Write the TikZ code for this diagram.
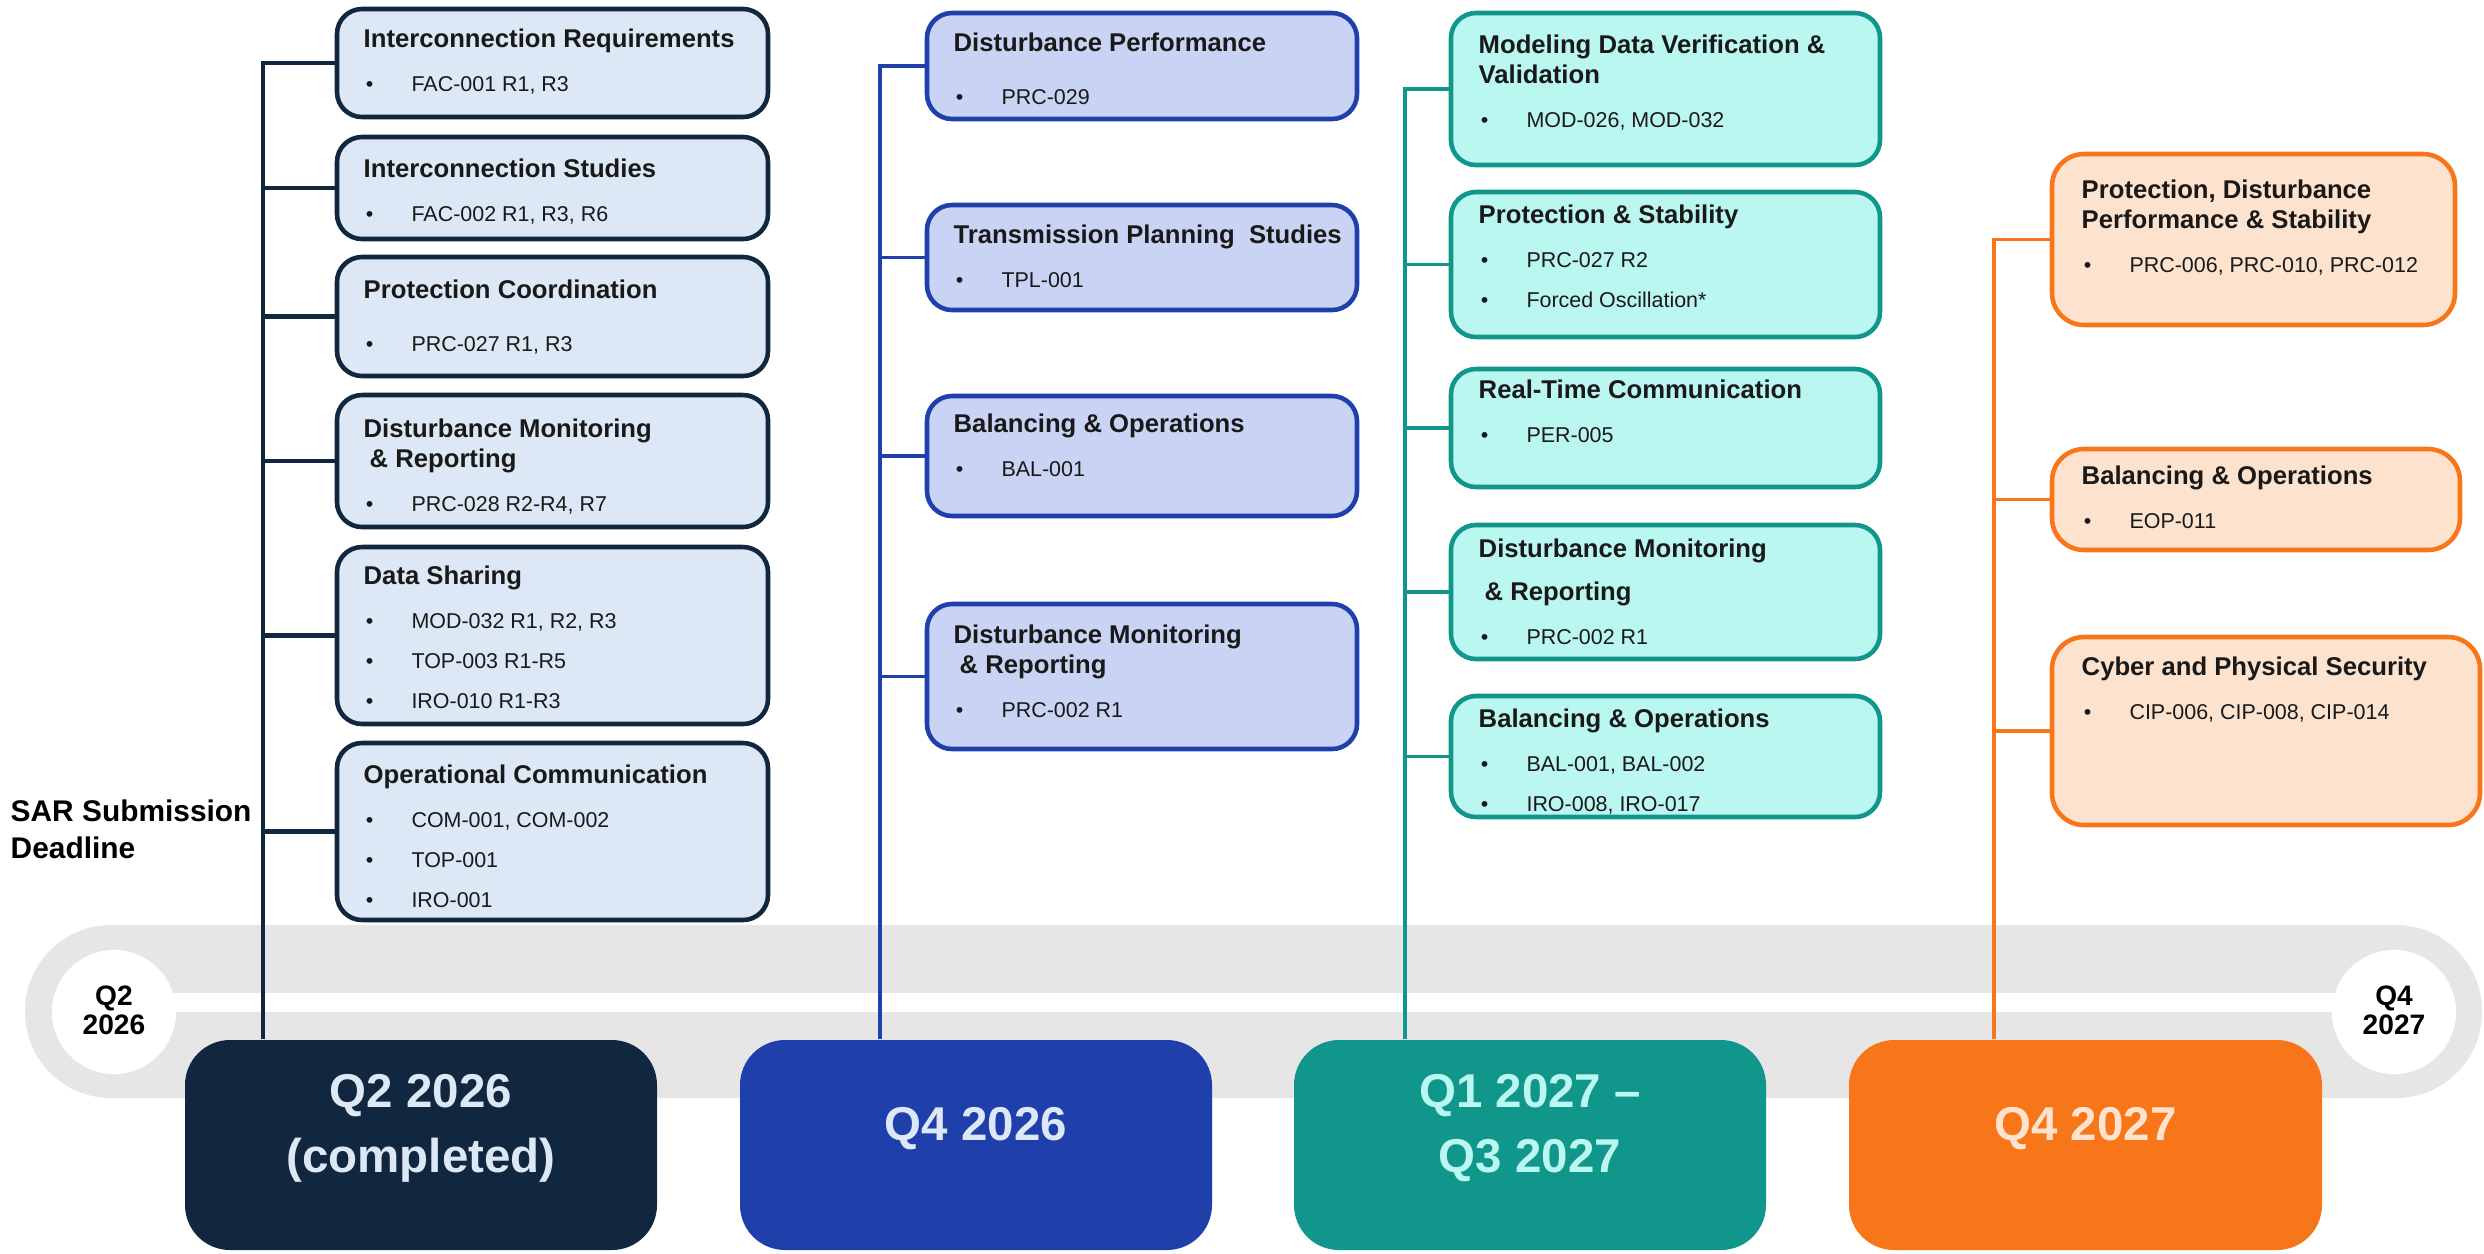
\documentclass[tikz,border=0pt]{standalone}
\usepackage{fontspec}
\setmainfont{Liberation Sans}
\usetikzlibrary{fit}
\setlength{\parindent}{0pt}

\definecolor{navy}{HTML}{10273F}
\definecolor{navyfill}{HTML}{DCE8F5}
\definecolor{royal}{HTML}{1F3FAA}
\definecolor{royalfill}{HTML}{C9D3F4}
\definecolor{tealc}{HTML}{10968A}
\definecolor{tealfill}{HTML}{BAF7F0}
\definecolor{orng}{HTML}{F7761A}
\definecolor{orngfill}{HTML}{FDE2CE}
\definecolor{track}{HTML}{E6E6E6}

% title and bullet lines inside a card
\newcommand{\ttl}[1]{{\fontsize{7.3}{8.5}\selectfont\bfseries #1\par}\vspace{1.1pt}}
\newcommand{\itm}[1]{{\fontsize{6.1}{11.4}\selectfont\makebox[13.6pt][l]{\hspace{0.6pt}\textbullet}#1\par}}

\begin{document}
\begin{tikzpicture}[x=0.01cm, y=-0.01cm,
    every node/.style={inner sep=0pt},
    card/.style={draw, line width=1.3pt, rounded corners=0.25cm},
    c1/.style={card, draw=navy, fill=navyfill},
    c2/.style={card, draw=royal, fill=royalfill},
    c3/.style={card, draw=tealc, fill=tealfill},
    c4/.style={card, draw=orng, fill=orngfill, rounded corners=0.32cm},
    txt/.style={anchor=north west, text width=4.1cm, align=flush left, text=black!90},
    link/.style={line width=1pt},
    qbox/.style={rounded corners=0.45cm, align=flush center,
      font=\fontsize{13.5}{18.5}\selectfont\bfseries},
    qlabel/.style={align=flush center, font=\fontsize{8}{6.8}\selectfont\bfseries}]
  \useasboundingbox (0,0) rectangle (2484,1253);

  % timeline track
  \fill[track, rounded corners=0.86cm] (25,925) rectangle (2482,1098);
  \fill[white] (114,993) rectangle (2394,1012);
  \fill[white] (114,1012) circle (0.62cm);
  \fill[white] (2394,1012) circle (0.62cm);
  \node[qlabel] (qs) at (114,1010) {Q2\\2026};
  \node[qlabel] (qe) at (2394,1010) {Q4\\2027};

  % quarter boxes
  \node[qbox, fill=navy, text=navyfill, fit={(185,1040) (657,1250)}] (q2) {Q2 2026\\(completed)};
  \node[qbox, fill=royal, text=navyfill, fit={(740,1040) (1212,1250)}] (q4a) {Q4 2026};
  \node[qbox, fill=tealc, text=tealfill, fit={(1294,1040) (1766,1250)}] (q1) {Q1 2027 --\\Q3 2027};
  \node[qbox, fill=orng, text=orngfill, fit={(1849,1040) (2322,1250)}] (q4b) {Q4 2027};

  \node[anchor=north west, align=flush left, font=\fontsize{8.5}{10.5}\selectfont\bfseries] (sar) at (10,799) {SAR Submission\\Deadline};

  \coordinate (sp1) at (263,0);
  \coordinate (sp2) at (880,0);
  \coordinate (sp3) at (1405,0);
  \coordinate (sp4) at (1994,0);

  % Q2 2026
  \node[c1, fit={(337,9) (768,117)}] (ir) {};
  \node[c1, fit={(337,137) (768,239)}] (is) {};
  \node[c1, fit={(337,257) (768,376)}] (pc) {};
  \node[c1, fit={(337,395) (768,527)}] (dm1) {};
  \node[c1, fit={(337,547) (768,724)}] (ds) {};
  \node[c1, fit={(337,743) (768,920)}] (oc) {};
  \draw[link, navy, line width=1.2pt] (q2.north -| sp1) |- (ir.west);
  \foreach \b in {is,pc,dm1,ds,oc}
    \draw[link, navy, line width=1.2pt] (\b.west) -- (\b.west -| sp1);

  \node[txt] (ir-t) at (363,28) {\ttl{Interconnection Requirements}\itm{FAC-001 R1, R3}};
  \node[txt] (is-t) at (363,158) {\ttl{Interconnection Studies}\itm{FAC-002 R1, R3, R6}};
  \node[txt] (pc-t) at (363,279) {\ttl{Protection Coordination}\vspace{2.6pt}\itm{PRC-027 R1, R3}};
  \node[txt] (dm1-t) at (363,418) {\ttl{Disturbance Monitoring\newline\hspace*{1.7pt}\& Reporting}\itm{PRC-028 R2-R4, R7}};
  \node[txt] (ds-t) at (363,565) {\ttl{Data Sharing}\itm{MOD-032 R1, R2, R3}\itm{TOP-003 R1-R5}\itm{IRO-010 R1-R3}};
  \node[txt] (oc-t) at (363,764) {\ttl{Operational Communication}\itm{COM-001, COM-002}\itm{TOP-001}\itm{IRO-001}};

  % Q4 2026
  \node[c2, fit={(927,13) (1357,119)}] (dp) {};
  \node[c2, fit={(927,205) (1357,310)}] (tp) {};
  \node[c2, fit={(927,396) (1357,516)}] (bo1) {};
  \node[c2, fit={(927,604) (1357,749)}] (dr) {};
  \draw[link, royal] (q4a.north -| sp2) |- (dp.west);
  \foreach \b in {tp,bo1,dr}
    \draw[link, royal] (\b.west) -- (\b.west -| sp2);

  \node[txt] (dp-t) at (953,32) {\ttl{Disturbance Performance}\vspace{2.6pt}\itm{PRC-029}};
  \node[txt] (tp-t) at (953,224) {\ttl{Transmission Planning\ \ Studies}\itm{TPL-001}};
  \node[txt] (bo1-t) at (953,413) {\ttl{Balancing \& Operations}\itm{BAL-001}};
  \node[txt] (dr-t) at (953,624) {\ttl{Disturbance Monitoring\newline\hspace*{1.7pt}\& Reporting}\itm{PRC-002 R1}};

  % Q1 2027 - Q3 2027
  \node[c3, fit={(1451,13) (1880,165)}] (md) {};
  \node[c3, fit={(1451,192) (1880,337)}] (ps) {};
  \node[c3, fit={(1451,369) (1880,487)}] (rt) {};
  \node[c3, fit={(1451,525) (1880,659)}] (dm2) {};
  \node[c3, fit={(1451,696) (1880,817)}] (bo2) {};
  \draw[link, tealc] (q1.north -| sp3) |- (md.west);
  \foreach \b in {ps,rt,dm2,bo2}
    \draw[link, tealc] (\b.west) -- (\b.west -| sp3);

  \node[txt] (md-t) at (1478,34) {\ttl{Modeling Data Verification \&\newline Validation}\itm{MOD-026, MOD-032}};
  \node[txt] (ps-t) at (1478,204) {\ttl{Protection \& Stability}\itm{PRC-027 R2}\itm{Forced Oscillation*}};
  \node[txt] (rt-t) at (1478,379) {\ttl{Real-Time Communication}\itm{PER-005}};
  \node[txt] (dm2-t) at (1478,538) {\ttl{Disturbance Monitoring}\vspace{2.6pt}\ttl{\hspace*{1.7pt}\& Reporting}\itm{PRC-002 R1}};
  \node[txt] (bo2-t) at (1478,708) {\ttl{Balancing \& Operations}\itm{BAL-001, BAL-002}\itm{IRO-008, IRO-017}};

  % Q4 2027
  \node[c4, fit={(2052,154) (2455,325)}] (pd) {};
  \node[c4, fit={(2052,449) (2460,550)}] (bo3) {};
  \node[c4, fit={(2052,637) (2480,825)}] (cp) {};
  \draw[link, orng] (q4b.north -| sp4) |- (pd.west);
  \foreach \b in {bo3,cp}
    \draw[link, orng] (\b.west) -- (\b.west -| sp4);

  \node[txt] (pd-t) at (2081,179) {\ttl{Protection, Disturbance\newline Performance \& Stability}\itm{PRC-006, PRC-010, PRC-012}};
  \node[txt] (bo3-t) at (2081,465) {\ttl{Balancing \& Operations}\itm{EOP-011}};
  \node[txt] (cp-t) at (2081,656) {\ttl{Cyber and Physical Security}\itm{CIP-006, CIP-008, CIP-014}};
\end{tikzpicture}
\end{document}
